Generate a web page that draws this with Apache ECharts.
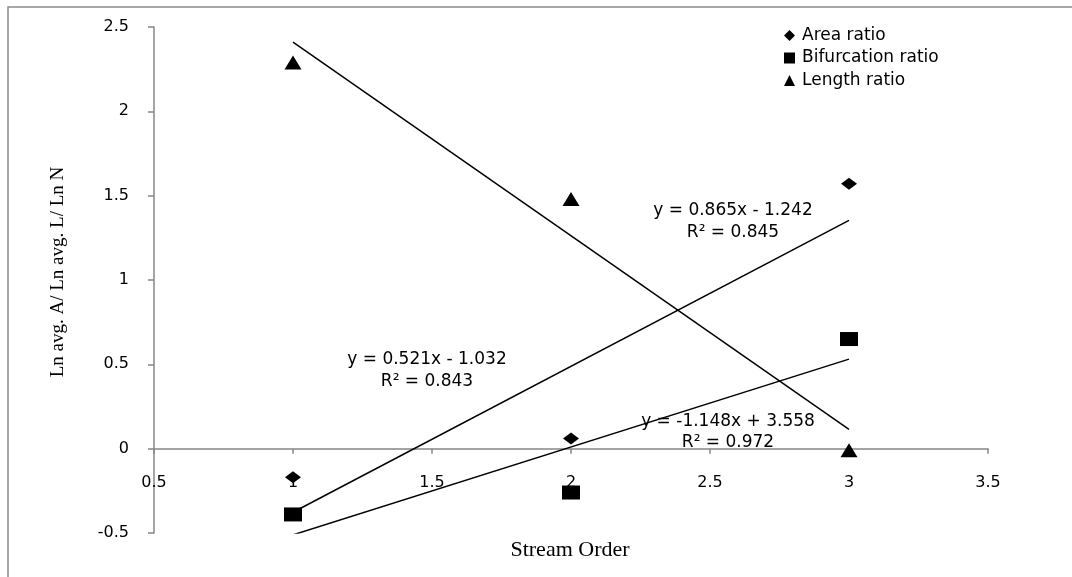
<!DOCTYPE html>
<html>
<head>
<meta charset="utf-8">
<script src="https://cdn.jsdelivr.net/npm/echarts@6/dist/echarts.min.js"></script>
<style>
html,body{margin:0;padding:0;background:#fff;}
#chart{width:1072px;height:577px;}
</style>
</head>
<body>
<div id="chart"></div>
<script>
// ---- data ----
const streamOrder = [1, 2, 3];
const areaRatio = [-0.17, 0.06, 1.57];
const bifurcationRatio = [-0.39, -0.26, 0.65];
const lengthRatio = [2.29, 1.48, -0.01];
// trendline endpoints (x = 1 and x = 3), as drawn in the picture
const trendArea = [[1, -0.377], [3, 1.353]];
const trendBif = [[1, -0.511], [3, 0.531]];
const trendLen = [[1, 2.41], [3, 0.114]];
const eqArea = ['y = 0.865x - 1.242', 'R² = 0.845'];
const eqBif = ['y = 0.521x - 1.032', 'R² = 0.843'];
const eqLen = ['y = -1.148x + 3.558', 'R² = 0.972'];
const seriesNames = ['Area ratio', 'Bifurcation ratio', 'Length ratio'];
const yTitle = 'Ln avg. A/ Ln avg. L/ Ln N';
const xTitle = 'Stream Order';

const pts = (ys) => streamOrder.map((x, i) => [x, ys[i]]);
const SANS = 'DejaVu Sans';
const SERIF = 'Liberation Serif';
const AX = '#878787';

const chart = echarts.init(document.getElementById('chart'), null, {renderer: 'canvas'});

function eqText(lines, cx, y1, y2) {
  return [
    {type: 'text', x: cx, y: y1, z: 10, style: {text: lines[0], fill: '#000', font: '17px "' + SANS + '"', align: 'center', verticalAlign: 'middle'}},
    {type: 'text', x: cx, y: y2, z: 10, style: {text: lines[1], fill: '#000', font: '17px "' + SANS + '"', align: 'center', verticalAlign: 'middle'}}
  ];
}

const option = {
  backgroundColor: '#fff',
  animation: false,
  grid: {left: 154, right: 84, top: 27, bottom: 44, containLabel: false},
  legend: {
    data: seriesNames.map((n, i) => ({name: n, icon: ['diamond', 'rect', 'triangle'][i]})),
    orient: 'vertical',
    left: 779, top: 22,
    itemWidth: 11, itemHeight: 11, itemGap: 5.5,
    itemStyle: {opacity: 1, color: '#000'},
    textStyle: {fontFamily: SANS, fontSize: 17, color: '#000', lineHeight: 17, padding: [0, 0, 0, 2]},
    selectedMode: false
  },
  xAxis: {
    type: 'value', min: 0.5, max: 3.5, interval: 0.5,
    axisLine: {onZero: true, lineStyle: {color: AX, width: 1.5}},
    axisTick: {show: true, length: 5, lineStyle: {color: AX, width: 1.5}},
    axisLabel: {color: '#000', fontFamily: SANS, fontSize: 16, margin: -58},
    splitLine: {show: false}
  },
  yAxis: {
    type: 'value', min: -0.5, max: 2.5, interval: 0.5,
    axisLine: {show: true, onZero: false, lineStyle: {color: AX, width: 1.5}},
    axisTick: {show: true, length: 6, lineStyle: {color: AX, width: 1.5}},
    axisLabel: {color: '#000', fontFamily: SANS, fontSize: 16, margin: 25},
    splitLine: {show: false}
  },
  graphic: [
    {type: 'rect', shape: {x: 8, y: 7, width: 1200, height: 700}, style: {fill: 'none', stroke: '#8a8a8a', lineWidth: 1.5}, z: -10, silent: true},
    {type: 'text', x: 58, y: 272, rotation: Math.PI / 2, style: {text: yTitle, fill: '#000', font: '19px "' + SERIF + '"', align: 'center', verticalAlign: 'middle'}},
    {type: 'text', x: 570, y: 550, style: {text: xTitle, fill: '#000', font: '22px "' + SERIF + '"', align: 'center', verticalAlign: 'middle'}}
  ].concat(eqText(eqArea, 733, 211, 233))
   .concat(eqText(eqBif, 427, 360, 382))
   .concat(eqText(eqLen, 728, 422, 443)),
  series: [
    {name: 'trendArea', type: 'line', data: trendArea, symbol: 'none', lineStyle: {color: '#000', width: 1.5}, z: 3},
    {name: 'trendBif', type: 'line', data: trendBif, symbol: 'none', lineStyle: {color: '#000', width: 1.5}, z: 3},
    {name: 'trendLen', type: 'line', data: trendLen, symbol: 'none', lineStyle: {color: '#000', width: 1.5}, z: 3},
    {name: seriesNames[0], type: 'scatter', data: pts(areaRatio), symbol: 'diamond', symbolSize: [16, 12], itemStyle: {color: '#000', opacity: 1}, z: 4},
    {name: seriesNames[1], type: 'scatter', data: pts(bifurcationRatio), symbol: 'rect', symbolSize: [18, 14], itemStyle: {color: '#000', opacity: 1}, z: 4},
    {name: seriesNames[2], type: 'scatter', data: pts(lengthRatio), symbol: 'triangle', symbolSize: [17, 14], itemStyle: {color: '#000', opacity: 1}, z: 4}
  ]
};
chart.setOption(option);
</script>
</body>
</html>
